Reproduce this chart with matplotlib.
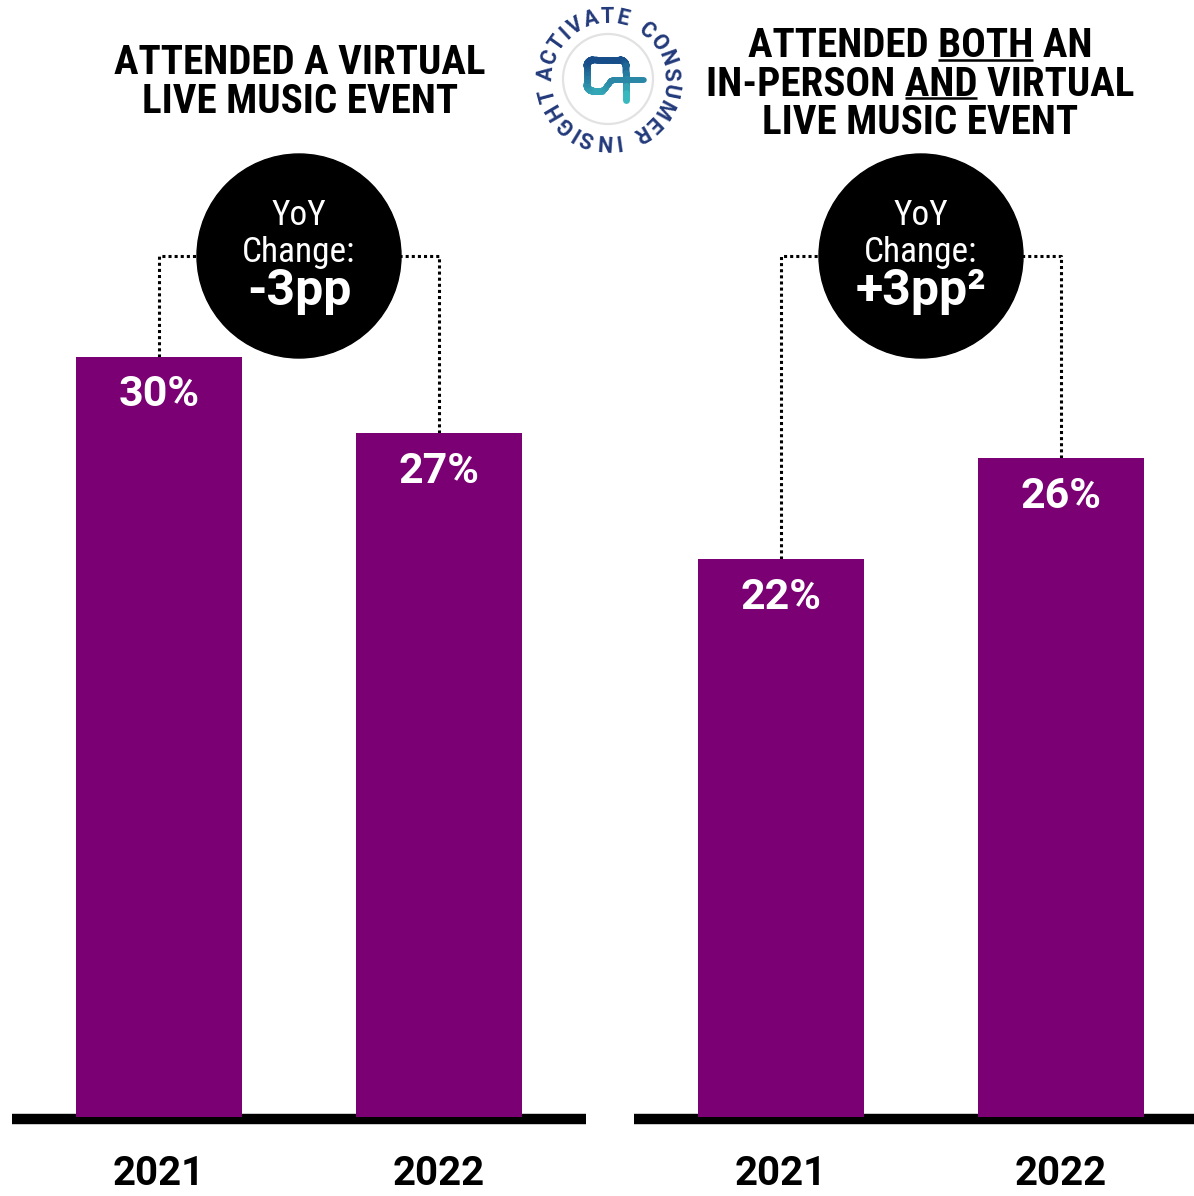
import numpy as np
import matplotlib.pyplot as plt
from matplotlib.patches import Ellipse, Circle
from matplotlib.collections import LineCollection
from matplotlib.font_manager import FontProperties

W, H = 1194, 1196
years = ["2021", "2022"]
virtual = [30, 27]
both = [22, 26]
yoy_labels = ["-3pp", "+3pp\u00b2"]
titles = [["ATTENDED A VIRTUAL", "LIVE MUSIC EVENT"],
          ["ATTENDED BOTH AN", "IN-PERSON AND VIRTUAL", "LIVE MUSIC EVENT"]]
underlined = {("ATTENDED BOTH AN", "BOTH"), ("IN-PERSON AND VIRTUAL", "AND")}

purple = "#7a0074"
navy = "#22397a"
cond = ["Roboto Condensed", "Liberation Sans Narrow", "Roboto", "DejaVu Sans"]
roboto = ["Roboto", "DejaVu Sans"]

px_per_pct = 25.35
base_y = 1117
top_y = 150
ymax = (base_y - top_y) / px_per_pct
spacing = 280.0
bar_w = 166 / spacing

fig = plt.figure(figsize=(W / 100, H / 100), dpi=100)
ov = fig.add_axes([0, 0, 1, 1], zorder=5)
ov.set_xlim(0, W)
ov.set_ylim(H, 0)
ov.axis("off")


def panel(x_left, x_right, first_center, vals, label):
    ax = fig.add_axes([x_left / W, 1 - base_y / H, (x_right - x_left) / W, (base_y - top_y) / H])
    ax.set_xlim(-(first_center - x_left) / spacing, (x_right - first_center) / spacing)
    ax.set_ylim(0, ymax)
    for s in ax.spines.values():
        s.set_visible(False)
    ax.set_yticks([])
    xs = np.arange(len(vals))
    ax.bar(xs, vals, width=bar_w, color=purple, zorder=2)
    ax.axhline(-2 / px_per_pct, color="black", lw=7.5, zorder=1, clip_on=False,
               solid_capstyle="butt")
    ax.set_xticks(xs, years)
    ax.tick_params(axis="x", length=0, pad=27.5)
    for t in ax.get_xticklabels():
        t.set_fontfamily(roboto)
        t.set_fontweight("bold")
        t.set_fontsize(29)
    for x, v in zip(xs, vals):
        ax.annotate(f"{v}%", (x, v), xytext=(0, -36), textcoords="offset points",
                    ha="center", va="baseline", color="white", fontsize=31,
                    fontweight="bold", family=roboto)
    # YoY bubble with dotted connectors
    yc = (base_y - 256) / px_per_pct
    cx = 0.5
    for x, v in zip(xs, vals):
        ax.plot([x, x, cx], [v, yc, yc], color="black", lw=2.2,
                linestyle=(0, (1, 1)), zorder=1, clip_on=False)
    ax.add_patch(Ellipse((cx, yc), 204 / spacing, 204 / px_per_pct, color="black",
                         zorder=3, clip_on=False))
    ax.annotate("YoY", (cx, yc), xytext=(0, 22), textcoords="offset points",
                ha="center", va="baseline", color="white", fontsize=25.5, family=cond, zorder=4)
    ax.annotate("Change:", (cx, yc), xytext=(0, -4), textcoords="offset points",
                ha="center", va="baseline", color="white", fontsize=25.5, family=cond, zorder=4)
    ax.annotate(label, (cx, yc), xytext=(0, -35.5), textcoords="offset points",
                ha="center", va="baseline", color="white", fontsize=36,
                fontweight="bold", family=roboto, zorder=4)
    return ax


panel(12, 586, 159, virtual, yoy_labels[0])
panel(634, 1194, 781, both, yoy_labels[1])

# titles
renderer = fig.canvas.get_renderer()
title_fp = FontProperties(family=cond, weight="bold", size=29.5)


def text_w(s):
    t = ov.text(0, 0, s, fontproperties=title_fp)
    w = t.get_window_extent(renderer).width
    t.remove()
    return w


for lines, cxp, y0, step in [(titles[0], 300, 74, 39), (titles[1], 920, 57, 38.5)]:
    for i, line in enumerate(lines):
        yb = y0 + i * step
        t = ov.text(cxp, yb, line, ha="center", va="baseline", fontproperties=title_fp)
        for ln, word in underlined:
            if ln == line:
                x0 = t.get_window_extent(renderer).x0
                end = x0 + text_w(line[:line.index(word) + len(word)])
                ov.plot([end - text_w(word), end], [yb + 2.5, yb + 2.5], color="black",
                        lw=1.8, solid_capstyle="butt")

# logo
lx, ly = 608, 79
ov.add_patch(Circle((lx, ly), 45, fill=False, ec="#e2e2e2", lw=1.6))
logo_fp = FontProperties(family=roboto, weight="bold", size=15.5)
ring = "ACTIVATE CONSUMER INSIGHT"
R = 62
widths = []
for ch in ring:
    if ch == " ":
        widths.append(9.0)
    else:
        t = ov.text(0, 0, ch, fontproperties=logo_fp)
        widths.append(t.get_window_extent(renderer).width)
        t.remove()
gaps = [(widths[i] + widths[i + 1]) / 2 for i in range(len(ring) - 1)]
track = (np.deg2rad(340) * R - sum(gaps)) / len(gaps)
ang = np.deg2rad(175)
for i, ch in enumerate(ring):
    if ch != " ":
        ov.text(lx + R * np.cos(ang), ly - R * np.sin(ang), ch, fontproperties=logo_fp,
                color=navy, ha="center", va="center", rotation=np.rad2deg(ang) - 90,
                rotation_mode="anchor")
    if i < len(gaps):
        ang -= (gaps[i] + track) / R


def arc(cxa, cya, r, a0, a1, n=12):
    a = np.deg2rad(np.linspace(a0, a1, n))
    return np.c_[cxa + r * np.cos(a), cya + r * np.sin(a)]


body = np.vstack([
    [[-6, 12], [-15, 12]],
    arc(-15, 6, 6, 90, 180),
    [[-21, -13]],
    arc(-15, -13, 6, 180, 270),
    [[12, -19]],
    arc(12, -13, 6, 270, 360),
    [[18, 21]],
])
tail = np.array([[-6, 12], [-3, 10], [0, 6], [3, 2], [6, 1], [36, 1]])


def grad_line(pts, lw):
    pts = np.array([np.interp(np.linspace(0, len(pts) - 1, 200), np.arange(len(pts)), pts[:, k])
                    for k in range(2)]).T
    segs = np.stack([pts[:-1], pts[1:]], axis=1) + [lx, ly]
    f = (segs[:, :, 1].mean(axis=1) - (ly - 22)) / 44
    c0 = np.array([0.08, 0.27, 0.52])
    c1 = np.array([0.24, 0.77, 0.77])
    cols = [tuple(c0 + (c1 - c0) * np.clip(v, 0, 1)) for v in f]
    ov.add_collection(LineCollection(segs, colors=cols, linewidths=lw, capstyle="round"))


grad_line(body, 5)
grad_line(tail, 4)

fig.savefig("out.png", dpi=100)
